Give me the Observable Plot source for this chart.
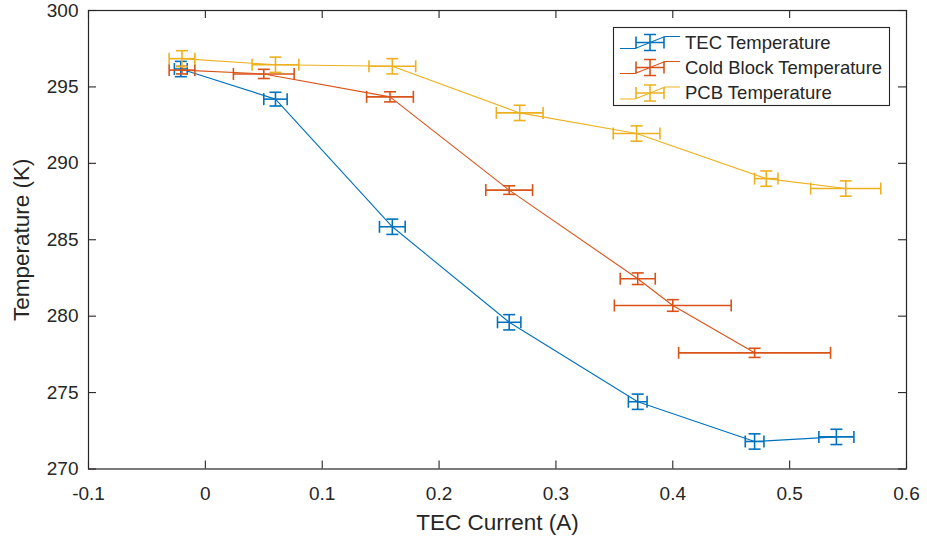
<!DOCTYPE html>
<html>
<head>
<meta charset="utf-8">
<script src="https://cdn.jsdelivr.net/npm/d3@7"></script>
<script src="https://cdn.jsdelivr.net/npm/@observablehq/plot@0.6"></script>
<style>
  html, body { margin: 0; padding: 0; background: #fff; }
  #wrap { position: relative; width: 927px; height: 539px; }
  #wrap svg { display: block; }
</style>
</head>
<body>
<div id="wrap"></div>
<script>
// ---- data ----
const seriesNames = ["TEC Temperature", "Cold Block Temperature", "PCB Temperature"];
const seriesColors = ["#0072BD", "#D95319", "#EDB120"];

const tecCurrent = [-0.021, 0.06, 0.16, 0.26, 0.37, 0.47, 0.54];
const tecTemp    = [296.17, 294.2, 285.85, 279.6, 274.4, 271.8, 272.1];
const tecCurErr  = [0.0055, 0.01, 0.011, 0.01, 0.008, 0.008, 0.015];
const tecTempErr = [0.5, 0.45, 0.5, 0.5, 0.5, 0.5, 0.5];

const coldCurrent = [-0.02, 0.05, 0.158, 0.26, 0.37, 0.40, 0.47];
const coldTemp    = [296.1, 295.85, 294.35, 288.25, 282.45, 280.7, 277.6];
const coldCurErr  = [0.011, 0.026, 0.02, 0.02, 0.015, 0.05, 0.065];
const coldTempErr = [0.25, 0.3, 0.33, 0.28, 0.38, 0.38, 0.3];

const pcbCurrent = [-0.02, 0.06, 0.16, 0.269, 0.369, 0.48, 0.548];
const pcbTemp    = [296.85, 296.45, 296.35, 293.3, 291.95, 289.0, 288.35];
const pcbCurErr  = [0.011, 0.02, 0.02, 0.02, 0.02, 0.01, 0.03];
const pcbTempErr = [0.52, 0.5, 0.5, 0.5, 0.5, 0.5, 0.5];

const xTicks = [-0.1, 0, 0.1, 0.2, 0.3, 0.4, 0.5, 0.6];
const yTicks = [270, 275, 280, 285, 290, 295, 300];

// ---- build table ----
function rows(name, xs, ys, xe, ye) {
  return xs.map((x, i) => ({series: name, x, t: ys[i], xe: xe[i], te: ye[i]}));
}
const groups = [
  rows(seriesNames[0], tecCurrent, tecTemp, tecCurErr, tecTempErr),
  rows(seriesNames[1], coldCurrent, coldTemp, coldCurErr, coldTempErr),
  rows(seriesNames[2], pcbCurrent, pcbTemp, pcbCurErr, pcbTempErr)
];

// cap symbols (half length = r)
const hCap = {draw(ctx, size) { const r = Math.sqrt(size / Math.PI); ctx.moveTo(-r, 0); ctx.lineTo(r, 0); }};
const vCap = {draw(ctx, size) { const r = Math.sqrt(size / Math.PI); ctx.moveTo(0, -r); ctx.lineTo(0, r); }};

const W = 927, H = 539;
const mL = 88, mR = 21, mT = 10, mB = 70.5;
const innerH = H - mT - mB, innerW = W - mL - mR;
const ink = "#262626";
const tickLen = 8;

const marks = [];
groups.forEach((g, i) => {
  const c = seriesColors[i];
  marks.push(Plot.line(g, {x: "x", y: "t", stroke: c, strokeWidth: 1.1}));
  // vertical error bars
  marks.push(Plot.link(g, {x1: "x", x2: "x", y1: d => d.t - d.te, y2: d => d.t + d.te, stroke: c, strokeWidth: 1.6}));
  marks.push(Plot.dot(g, {x: "x", y: d => d.t - d.te, symbol: hCap, r: 6, stroke: c, strokeWidth: 1.6, fill: "none"}));
  marks.push(Plot.dot(g, {x: "x", y: d => d.t + d.te, symbol: hCap, r: 6, stroke: c, strokeWidth: 1.6, fill: "none"}));
  // horizontal error bars
  marks.push(Plot.link(g, {x1: d => d.x - d.xe, x2: d => d.x + d.xe, y1: "t", y2: "t", stroke: c, strokeWidth: 1.6}));
  marks.push(Plot.dot(g, {x: d => d.x - d.xe, y: "t", symbol: vCap, r: 6, stroke: c, strokeWidth: 1.6, fill: "none"}));
  marks.push(Plot.dot(g, {x: d => d.x + d.xe, y: "t", symbol: vCap, r: 6, stroke: c, strokeWidth: 1.6, fill: "none"}));
});

const chart = Plot.plot({
  width: W, height: H,
  marginLeft: mL, marginRight: mR, marginTop: mT, marginBottom: mB,
  style: {fontFamily: "Arial, 'Liberation Sans', Helvetica, sans-serif", fontSize: "19px", color: ink, background: "#fff"},
  x: {domain: [-0.1, 0.6]},
  y: {domain: [270, 300]},
  marks: [
    Plot.frame({stroke: ink, strokeWidth: 1.2}),
    // inward ticks
    Plot.tickX(xTicks, {x: d => d, insetTop: innerH - tickLen, stroke: ink, strokeWidth: 1.1}),
    Plot.tickX(xTicks, {x: d => d, insetBottom: innerH - tickLen, stroke: ink, strokeWidth: 1.1}),
    Plot.tickY(yTicks, {y: d => d, insetRight: innerW - tickLen, stroke: ink, strokeWidth: 1.1}),
    Plot.tickY(yTicks, {y: d => d, insetLeft: innerW - tickLen, stroke: ink, strokeWidth: 1.1}),
    Plot.axisX(xTicks, {anchor: "bottom", tickSize: 0, tickPadding: 17, tickFormat: d => String(d),
      label: "TEC Current (A)", labelAnchor: "center", labelOffset: 61, labelArrow: "none", fill: ink}),
    Plot.axisY(yTicks, {anchor: "left", tickSize: 0, tickPadding: 10, tickFormat: d => String(d),
      label: "Temperature (K)", labelAnchor: "center", labelOffset: 75, labelArrow: "none", fill: ink}),
    ...marks
  ]
});

document.getElementById("wrap").appendChild(chart);
d3.select(chart).selectAll('[aria-label="x-axis label"], [aria-label="y-axis label"]').attr("font-size", "22.5px").style("font-size", "22.5px");

// ---- legend overlay ----
const leg = d3.select("#wrap").append("svg")
  .attr("width", W).attr("height", H)
  .style("position", "absolute").style("left", "0px").style("top", "0px")
  .style("pointer-events", "none")
  .style("font-family", "Arial, 'Liberation Sans', Helvetica, sans-serif");
leg.append("rect").attr("x", 613.5).attr("y", 27.5).attr("width", 276).attr("height", 78)
  .attr("fill", "#fff").attr("stroke", ink).attr("stroke-width", 1.1);
const rowY = [42.5, 67.5, 93];
seriesNames.forEach((name, i) => {
  const y = rowY[i], c = seriesColors[i];
  const g = leg.append("g").attr("stroke", c).attr("fill", "none");
  g.append("path").attr("d", `M620,${y + 6}L635,${y + 6}L665,${y - 6}L680,${y - 6}`).attr("stroke-width", 1.1);
  g.append("path").attr("d", `M650,${y - 8}V${y + 8}M644,${y - 8}H656M644,${y + 8}H656M636,${y}H664M636,${y - 6}V${y + 6}M664,${y - 6}V${y + 6}`).attr("stroke-width", 1.6);
  leg.append("text").attr("x", 685).attr("y", y).attr("dy", "0.35em")
    .attr("font-size", "18.5px").attr("fill", ink).text(name);
});
</script>
</body>
</html>
